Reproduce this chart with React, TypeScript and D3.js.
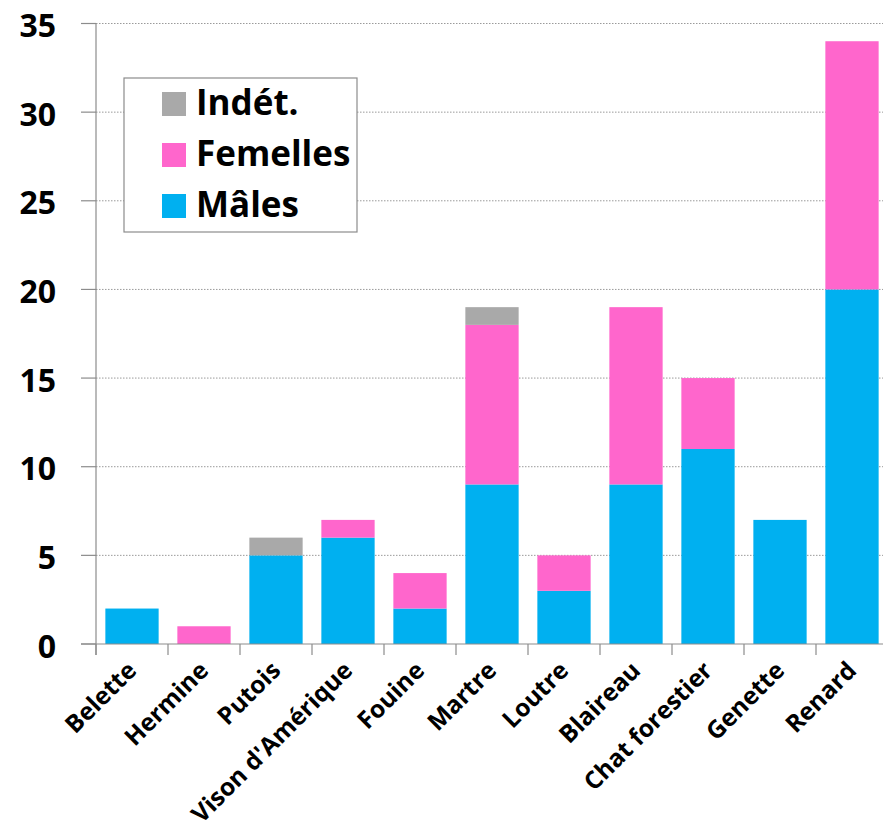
import React from "react";
import * as d3 from "d3";

const species = [
  "Belette",
  "Hermine",
  "Putois",
  "Vison d'Amérique",
  "Fouine",
  "Martre",
  "Loutre",
  "Blaireau",
  "Chat forestier",
  "Genette",
  "Renard",
];
const males = [2, 0, 5, 6, 2, 9, 3, 9, 11, 7, 20];
const femelles = [0, 1, 0, 1, 2, 9, 2, 10, 4, 0, 14];
const indet = [0, 0, 1, 0, 0, 1, 0, 0, 0, 0, 0];
const yTicks = [0, 5, 10, 15, 20, 25, 30, 35];

const seriesKeys = ["males", "femelles", "indet"];
const seriesLabels: Record<string, string> = {
  males: "Mâles",
  femelles: "Femelles",
  indet: "Indét.",
};
const seriesColors: Record<string, string> = {
  males: "#00B0F0",
  femelles: "#FF66CC",
  indet: "#A9A9A9",
};

const W = 883;
const H = 836;
const FONT = "'Open Sans', Lato, sans-serif";

export default function App() {
  const rows = species.map((name, i) => ({
    name,
    males: males[i],
    femelles: femelles[i],
    indet: indet[i],
  }));

  const x = d3
    .scaleBand<string>()
    .domain(species)
    .range([96, 888])
    .paddingInner(0.26)
    .paddingOuter(0.13);
  const y = d3.scaleLinear().domain([0, 35]).range([644, 23.5]);

  const stack = d3.stack<any>().keys(seriesKeys)(rows);
  const step = x.step();
  const edges = d3.range(species.length + 1).map((i) => 96 + i * step);

  const legendOrder = ["indet", "femelles", "males"];

  return (
    <svg
      width={W}
      height={H}
      viewBox={`0 0 ${W} ${H}`}
      style={{ position: "absolute", left: 0, top: 0, background: "#fff" }}
    >
      <rect x={0} y={0} width={W} height={H} fill="#fff" />

      {/* horizontal gridlines */}
      {yTicks
        .filter((t) => t > 0)
        .map((t) => (
          <line
            key={t}
            x1={96}
            x2={W}
            y1={y(t)}
            y2={y(t)}
            stroke="#9a9a9a"
            strokeWidth={1}
            strokeDasharray="1.5 1.5"
          />
        ))}

      {/* stacked bars */}
      {stack.map((layer) =>
        layer.map((d, i) =>
          d[1] - d[0] > 0 ? (
            <rect
              key={layer.key + i}
              x={x(species[i])}
              width={x.bandwidth()}
              y={y(d[1])}
              height={y(d[0]) - y(d[1])}
              fill={seriesColors[layer.key]}
            />
          ) : null
        )
      )}

      {/* axes */}
      <line x1={96} x2={96} y1={y(35)} y2={655} stroke="#8c8c8c" strokeWidth={1.2} />
      <line x1={81} x2={W} y1={y(0)} y2={y(0)} stroke="#8c8c8c" strokeWidth={1.2} />
      {yTicks.map((t) => (
        <line key={t} x1={81} x2={96} y1={y(t)} y2={y(t)} stroke="#8c8c8c" strokeWidth={1.2} />
      ))}
      {edges.map((e, i) => (
        <line key={i} x1={e} x2={e} y1={y(0)} y2={655} stroke="#8c8c8c" strokeWidth={1.2} />
      ))}

      {/* y tick labels */}
      {yTicks.map((t) => (
        <text
          key={t}
          x={56}
          y={y(t) + 13.5}
          textAnchor="end"
          fontFamily={FONT}
          fontWeight={700}
          fontSize={32}
          fill="#000"
        >
          {t}
        </text>
      ))}

      {/* category labels */}
      {species.map((s) => {
        const cx = (x(s) as number) + x.bandwidth() / 2 + 6;
        return (
          <text
            key={s}
            transform={`translate(${cx},${672}) rotate(-45)`}
            textAnchor="end"
            fontFamily={FONT}
            fontWeight={700}
            fontSize={24.5}
            fill="#000"
          >
            {s}
          </text>
        );
      })}

      {/* legend */}
      <rect x={124} y={78} width={233} height={154} fill="#fff" stroke="#8c8c8c" strokeWidth={1.2} />
      {legendOrder.map((k, i) => (
        <g key={k}>
          <rect x={162} y={92 + i * 51} width={24} height={24} fill={seriesColors[k]} />
          <text
            x={196}
            y={115 + i * 51}
            fontFamily={FONT}
            fontWeight={700}
            fontSize={35}
            fill="#000"
          >
            {seriesLabels[k]}
          </text>
        </g>
      ))}
    </svg>
  );
}
